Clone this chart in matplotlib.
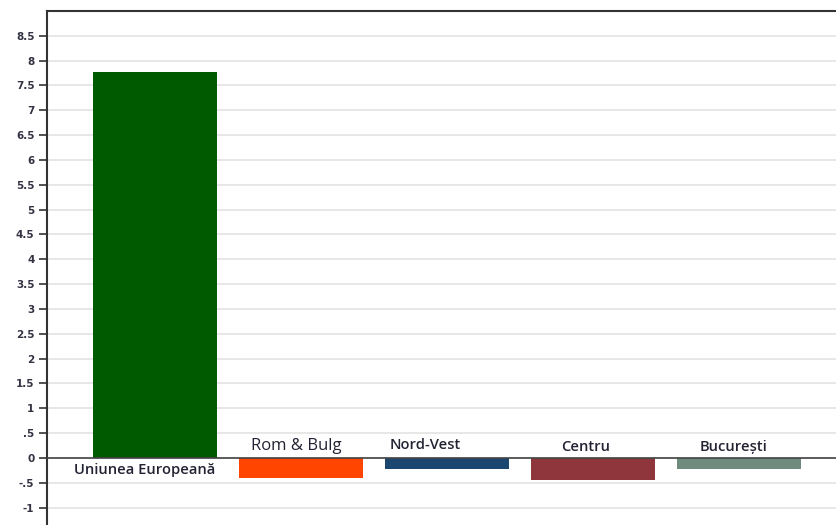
import numpy as np
import matplotlib
matplotlib.use("Agg")
import matplotlib.pyplot as plt

# data
categories = ["Uniunea Europeană", "Rom & Bulg", "Nord-Vest", "Centru", "București"]
values = [7.78, -0.40, -0.22, -0.44, -0.22]
colors = ["#005a00", "#ff4500", "#1b4670", "#8f353c", "#6e8b7d"]

# label styling (the source chart places its labels a bit off-centre)
label_sizes = [10.6, 12, 10.6, 10.6, 10.6]
label_weights = ["semibold", "normal", "semibold", "semibold", "semibold"]
label_dx = [-0.07, -0.03, -0.15, -0.05, -0.04]
label_dy = [0, 0, 0.05, 0, 0]

yticks = np.arange(-1.0, 8.51, 0.5)


def fmt_tick(v):
    s = f"{v:g}"
    if s.startswith("0.") and v != 0:
        s = s[1:]
    elif s.startswith("-0."):
        s = "-" + s[2:]
    return s


def main():
    fig = plt.figure(figsize=(8.37, 5.25), dpi=100)
    ax = fig.add_axes([47 / 837, 0.0, 1 - 47 / 837, 1 - 11 / 525])

    x = np.arange(len(categories))
    ax.bar(x, values, width=0.85, color=colors, zorder=3)

    # category labels: below the zero line for positive bars, above for negative
    fam = ["Open Sans", "DejaVu Sans"]
    for i, (xi, v, name) in enumerate(zip(x, values, categories)):
        if v >= 0:
            ax.text(xi + label_dx[i], -0.1, name, ha="center", va="top",
                    fontsize=label_sizes[i], fontweight=label_weights[i],
                    family=fam, color="#222233", zorder=4)
        else:
            ax.text(xi + label_dx[i], 0.08 + label_dy[i], name, ha="center",
                    va="bottom", fontsize=label_sizes[i],
                    fontweight=label_weights[i], family=fam,
                    color="#222233", zorder=4)

    ax.axhline(0, color="#444444", linewidth=1.2, zorder=4)

    ax.set_xlim(-0.74, 4.67)
    ax.set_ylim(-1.35, 9.0)
    ax.set_yticks(yticks)
    ax.set_yticklabels([fmt_tick(v) for v in yticks], fontsize=7.5,
                       fontweight="bold", color="#333344")
    ax.set_xticks([])
    ax.tick_params(axis="y", direction="out", length=6, width=1.2,
                   color="#333333", pad=3)
    ax.grid(axis="y", color="#e3e3e3", linewidth=1.2, zorder=0)

    for side in ["right", "bottom"]:
        ax.spines[side].set_visible(False)
    for side in ["left", "top"]:
        ax.spines[side].set_color("#333333")
        ax.spines[side].set_linewidth(1.5)

    fig.savefig("out.png", dpi=100)


if __name__ == "__main__":
    main()
